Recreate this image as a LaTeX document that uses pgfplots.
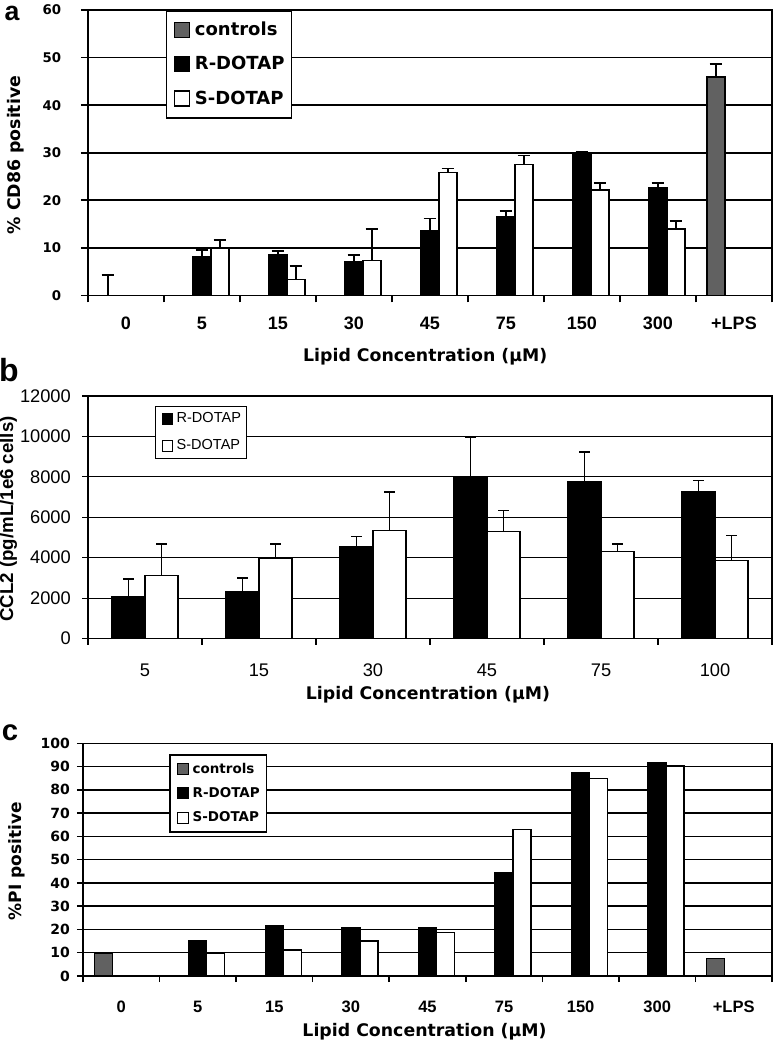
\documentclass[border=0pt]{standalone}
\usepackage{fontspec}
\setmainfont{Liberation Sans}
\newfontfamily\dvs{DejaVu Sans}
\usepackage{pgfplots}
\pgfplotsset{compat=1.18}
\usepackage{pgfplotstable}

% ---------- panel a data ----------
\pgfplotstableread{
x y e
0 0 4.3
8 45.9 2.7
}\tabAc
\pgfplotstableread{
x y e
1 8.2 1.4
2 8.6 0.8
3 7.1 1.4
4 13.7 2.5
5 16.6 1.1
6 29.7 0.6
7 22.6 1.0
}\tabAr
\pgfplotstableread{
x y e
1 10.0 1.6
2 3.4 2.8
3 7.4 6.6
4 25.9 0.8
5 27.5 1.9
6 22.2 1.4
7 14.0 1.6
}\tabAs
% ---------- panel b data ----------
\pgfplotstableread{
x y e
0 2070 870
1 2314 680
2 4545 500
3 8000 1950
4 7787 1440
5 7295 525
}\tabBr
\pgfplotstableread{
x y e
0 3124 1540
1 3950 710
2 5355 1885
3 5290 1040
4 4300 380
5 3850 1250
}\tabBs
% ---------- panel c data ----------
\pgfplotstableread{
x y
0 9.6
8 7.5
}\tabCc
\pgfplotstableread{
x y
1 15.4
2 21.7
3 20.6
4 20.6
5 44.5
6 87.2
7 91.7
}\tabCr
\pgfplotstableread{
x y
1 9.8
2 11.2
3 15.1
4 18.6
5 63.1
6 84.9
7 90.2
}\tabCs

\def\ka#1{\llap{\dvs\bfseries\fontsize{10pt}{11pt}\selectfont #1\kern14.25pt}}
\def\kb#1{\llap{\fontsize{13.7pt}{15pt}\selectfont #1\kern7.7pt}}
\def\kc#1{\llap{\dvs\bfseries\fontsize{10.5pt}{11pt}\selectfont #1\kern4.7pt}}

\pgfplotsset{
  /pgf/number format/assume math mode=true,
  excel/.style={
    scale only axis, anchor=south west, enlargelimits=false,
    tick align=outside, xtick pos=bottom, ytick pos=left,
    ymajorgrids, x tick label as interval, ybar,
    legend cell align=left, scaled y ticks=false,
    error bars/y dir=plus, error bars/y explicit, error bars/error mark=|,
  },
}

\begin{document}
\begin{tikzpicture}
\useasboundingbox (0,0) rectangle (580.5pt,-782.25pt);

% ================= panel a =================
\begin{axis}[excel,
  at={(66pt,-221.6pt)}, width=513pt, height=214.1pt,
  xmin=-0.5, xmax=8.5, ymin=0, ymax=60,
  xtick={-0.5,0.5,1.5,2.5,3.5,4.5,5.5,6.5,7.5,8.5},
  xticklabels={0,5,15,30,45,75,150,300,+LPS},
  ytick={0,10,20,30,40,50,60},
  yticklabels={\ka{0},\ka{10},\ka{20},\ka{30},\ka{40},\ka{50},\ka{60}},
  axis line style={black,line width=1.3pt},
  grid style={black,line width=1.3pt},
  major tick length=5.25pt, every tick/.style={black,line width=1.3pt},
  yticklabel style={anchor=east, inner sep=0pt},
  xticklabel style={font=\bfseries\fontsize{13.5pt}{15pt}\selectfont, anchor=base, inner sep=0pt, yshift=-20.5pt},
  ylabel={\% CD86 positive},
  ylabel style={at={(axis description cs:-0.0987,0.492)}, anchor=base, font=\dvs\bfseries\fontsize{13pt}{15pt}\selectfont},
  xlabel={Lipid Concentration (µM)},
  xlabel style={at={(axis description cs:0.493,-0.2319)}, anchor=base, font=\dvs\bfseries\fontsize{13pt}{15pt}\selectfont},
  error bars/error bar style={black,line width=1.2pt},
  error bars/error mark options={black,line width=1.2pt,mark size=4.7pt},
  legend style={at={(axis description cs:0.1136,1)}, anchor=north west, draw=black, line width=1.3pt,
    inner xsep=5.25pt, inner ysep=8.25pt, row sep=13.5pt,
    font=\dvs\bfseries\fontsize{13.5pt}{15pt}\selectfont, nodes={inner sep=0pt},
    /tikz/every odd column/.append style={column sep=3.75pt}},
  legend image code/.code={\draw[#1,line width=1pt] (0pt,-5.6pt) rectangle (11.25pt,5.6pt);},
]
\addplot[fill=black!62, draw=black, line width=1.1pt, bar width=13.5pt, bar shift=-13.5pt] table[x=x,y=y,y error=e]{\tabAc};
\addplot[fill=black, draw=black, line width=1.1pt, bar width=13.5pt, bar shift=0pt] table[x=x,y=y,y error=e]{\tabAr};
\addplot[fill=white, draw=black, line width=1.1pt, bar width=13.5pt, bar shift=13.5pt] table[x=x,y=y,y error=e]{\tabAs};
\legend{controls,R-DOTAP,S-DOTAP}
\end{axis}

% ================= panel b =================
\begin{axis}[excel,
  at={(66pt,-478.9pt)}, width=513pt, height=181.9pt,
  xmin=-0.5, xmax=5.5, ymin=0, ymax=12000,
  xtick={-0.5,0.5,1.5,2.5,3.5,4.5,5.5},
  xticklabels={5,15,30,45,75,100},
  ytick={0,2000,4000,6000,8000,10000,12000},
  yticklabels={\kb{0},\kb{2000},\kb{4000},\kb{6000},\kb{8000},\kb{10000},\kb{12000}},
  axis line style={black,line width=0.8pt},
  grid style={black,line width=0.8pt},
  major tick length=4.5pt, every tick/.style={black,line width=0.8pt},
  yticklabel style={anchor=east, inner sep=0pt},
  xticklabel style={font=\fontsize{13.7pt}{15pt}\selectfont, anchor=base, inner sep=0pt, yshift=-24pt},
  ylabel={CCL2 (pg/mL/1e6 cells)},
  ylabel style={at={(axis description cs:-0.1096,0.493)}, anchor=base, font=\bfseries\fontsize{14pt}{16pt}\selectfont},
  xlabel={Lipid Concentration (µM)},
  xlabel style={at={(axis description cs:0.497,-0.2524)}, anchor=base, font=\dvs\bfseries\fontsize{13pt}{15pt}\selectfont},
  error bars/error bar style={black,line width=0.9pt},
  error bars/error mark options={black,line width=1.3pt,mark size=4pt},
  legend style={at={(axis description cs:0.098,0.959)}, anchor=north west, draw=black, line width=0.8pt,
    inner xsep=4.5pt, inner ysep=4.75pt, row sep=11pt,
    font=\fontsize{10.9pt}{12pt}\selectfont, nodes={inner sep=0pt},
    /tikz/every odd column/.append style={column sep=2.5pt}},
  legend image code/.code={\draw[#1,line width=0.8pt] (0pt,-4pt) rectangle (8pt,4pt);},
]
\addplot[fill=black, draw=black, line width=0.9pt, bar width=24.75pt, bar shift=-12.375pt] table[x=x,y=y,y error=e]{\tabBr};
\addplot[fill=white, draw=black, line width=0.9pt, bar width=24.75pt, bar shift=12.375pt] table[x=x,y=y,y error=e]{\tabBs};
\legend{R-DOTAP,S-DOTAP}
\end{axis}

% ================= panel c =================
\begin{axis}[excel,
  at={(62.25pt,-732pt)}, width=516.75pt, height=174.5pt,
  xmin=-0.5, xmax=8.5, ymin=0, ymax=100,
  xtick={-0.5,0.5,1.5,2.5,3.5,4.5,5.5,6.5,7.5,8.5},
  xticklabels={0,5,15,30,45,75,150,300,+LPS},
  ytick={0,10,20,30,40,50,60,70,80,90,100},
  yticklabels={\kc{0},\kc{10},\kc{20},\kc{30},\kc{40},\kc{50},\kc{60},\kc{70},\kc{80},\kc{90},\kc{100}},
  axis line style={black,line width=1.1pt},
  grid style={black,line width=1.1pt},
  major tick length=4.5pt, every tick/.style={black,line width=1.1pt},
  yticklabel style={anchor=east, inner sep=0pt},
  xticklabel style={font=\bfseries\fontsize{12.4pt}{14pt}\selectfont, anchor=base, inner sep=0pt, yshift=-23pt},
  ylabel={\%PI positive},
  ylabel style={at={(axis description cs:-0.0893,0.494)}, anchor=base, font=\dvs\bfseries\fontsize{12.75pt}{14pt}\selectfont},
  xlabel={Lipid Concentration (µM)},
  xlabel style={at={(axis description cs:0.4956,-0.2608)}, anchor=base, font=\dvs\bfseries\fontsize{13pt}{15pt}\selectfont},
  legend style={at={(axis description cs:0.1253,0.954)}, anchor=north west, draw=black, line width=1.1pt,
    inner xsep=5pt, inner ysep=6pt, row sep=9.25pt,
    font=\dvs\bfseries\fontsize{10.1pt}{12pt}\selectfont, nodes={inner sep=0pt},
    /tikz/every odd column/.append style={column sep=2.8pt}},
  legend image code/.code={\draw[#1,line width=0.9pt] (0pt,-4.1pt) rectangle (8.25pt,4.1pt);},
]
\addplot[fill=black!62, draw=black, line width=1pt, bar width=13.5pt, bar shift=-13.5pt] table[x=x,y=y]{\tabCc};
\addplot[fill=black, draw=black, line width=1pt, bar width=13.5pt, bar shift=0pt] table[x=x,y=y]{\tabCr};
\addplot[fill=white, draw=black, line width=1pt, bar width=13.5pt, bar shift=13.5pt] table[x=x,y=y]{\tabCs};
\legend{controls,R-DOTAP,S-DOTAP}
\end{axis}

\node[font=\bfseries\fontsize{20pt}{20pt}\selectfont, inner sep=0pt] at (9pt,-9.8pt) {a};
\node[font=\bfseries\fontsize{24pt}{24pt}\selectfont, inner sep=0pt] at (6.75pt,-277.5pt) {b};
\node[font=\bfseries\fontsize{22pt}{22pt}\selectfont, inner sep=0pt] at (7.5pt,-549.4pt) {c};
\end{tikzpicture}
\end{document}
